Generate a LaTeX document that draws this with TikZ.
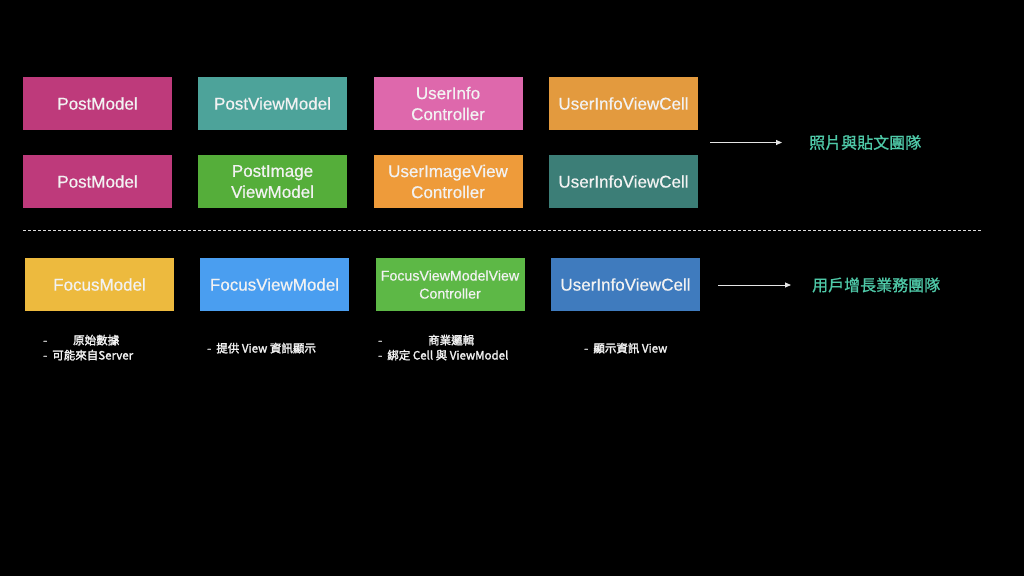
\documentclass[tikz,border=0pt]{standalone}
\usepackage{fontspec}
\setmainfont{Liberation Sans}
\newfontfamily\boxfont[FakeBold=0.6]{Liberation Sans}
\newfontfamily\cjk[FakeBold=1]{Noto Sans CJK TC}
\newfontfamily\cjkb[FakeBold=1.8]{Noto Sans CJK TC}
\usetikzlibrary{positioning}
\usetikzlibrary{arrows.meta}

\definecolor{cMagenta}{HTML}{BE3A7B}
\definecolor{cTeal}{HTML}{4DA39A}
\definecolor{cPink}{HTML}{DE68AC}
\definecolor{cOrange}{HTML}{E39A3E}
\definecolor{cGreen}{HTML}{55AE3A}
\definecolor{cOrangeB}{HTML}{EE9B3A}
\definecolor{cTealD}{HTML}{3C7E77}
\definecolor{cYellow}{HTML}{EDBA3E}
\definecolor{cBlue}{HTML}{4A9EF0}
\definecolor{cGreenB}{HTML}{5DB846}
\definecolor{cBlueD}{HTML}{3F7BBE}
\definecolor{cTeam}{HTML}{4FC9A8}
\definecolor{cText}{HTML}{F2F2F2}

\begin{document}
\begin{tikzpicture}[x=1pt,y=-1pt,
	card/.style={rectangle,fill=#1,minimum width=149pt,minimum height=53pt,inner sep=1pt,align=center,text=cText,font=\boxfont\fontsize{17}{21}\selectfont},
	team/.style={anchor=west,inner sep=0pt,text=cTeam,font=\cjk\fontsize{16}{16}\selectfont},
	note/.style={anchor=base west,inner sep=0pt,text=cText,font=\cjkb\fontsize{11.5}{13}\selectfont},
	arr/.style={-{Triangle[length=6pt,width=5pt]},white!90!black,line width=0.8pt}]

	\fill[black] (0,0) rectangle (1024,576);

	% first team
	\node[card=cMagenta] (a1) at (97.5,103.5) {PostModel};
	\node[card=cTeal] (a2) at (272.5,103.5) {PostViewModel};
	\node[card=cPink] (a3) at (448,103.5) {UserInfo\\Controller};
	\node[card=cOrange] (a4) at (623.5,103.5) {UserInfoViewCell};

	\node[card=cMagenta] (b1) at (97.5,181.5) {PostModel};
	\node[card=cGreen] (b2) at (272.5,181.5) {PostImage\\ViewModel};
	\node[card=cOrangeB] (b3) at (448,181.5) {UserImageView\\Controller};
	\node[card=cTealD] (b4) at (623.5,181.5) {UserInfoViewCell};

	\coordinate (s1) at (710,142.5);
	\node[team] (t1) at (809,142.5) {照片與貼文團隊};
	\draw[arr,shorten >=27pt] (s1) -- (t1);

	% separator
	\coordinate (l) at (23,230);
	\coordinate (r) at (982,230);
	\draw[white!85!black,line width=0.8pt,dash pattern=on 3pt off 2pt] (l) -- (r);

	% second team
	\node[card=cYellow] (c1) at (99.5,284.5) {FocusModel};
	\node[card=cBlue] (c2) at (274.5,284.5) {FocusViewModel};
	\node[card=cGreenB,font=\boxfont\fontsize{14.2}{18}\selectfont] (c3) at (450,284.5) {FocusViewModelView\\Controller};
	\node[card=cBlueD] (c4) at (625.5,284.5) {UserInfoViewCell};

	\coordinate (s2) at (718,285);
	\node[team] (t2) at (812,285) {用戶增長業務團隊};
	\draw[arr,shorten >=21pt] (s2) -- (t2);

	% notes
	\node[note] (n1) at (43,344.5) {-};
	\node[note] (n2) at (73,344.5) {原始數據};
	\node[note] (n3) at (43,359.5) {-\ \ 可能來自Server};
	\node[note] (n4) at (207,352.5) {-\ \ 提供 View 資訊顯示};
	\node[note] (n5) at (378,344.5) {-};
	\node[note] (n6) at (428,344.5) {商業邏輯};
	\node[note] (n7) at (378,359.5) {-\ \ 綁定 Cell 與 ViewModel};
	\node[note] (n8) at (584,352.5) {-\ \ 顯示資訊 View};
\end{tikzpicture}
\end{document}
